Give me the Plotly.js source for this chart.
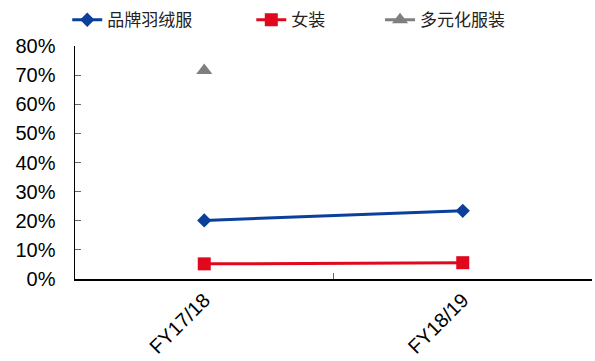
<!DOCTYPE html>
<html>
<head>
<meta charset="utf-8">
<script src="https://cdn.plot.ly/plotly-3.0.1.min.js"></script>
<style>html,body{margin:0;padding:0;background:#fff;}#chart{width:595px;height:361px;}</style>
</head>
<body>
<div id="chart"></div>
<script>
const categories = ["FY17/18", "FY18/19"];
const seriesNames = ["品牌羽绒服", "女装", "多元化服装"];
const downJacket = [0.201, 0.234];
const womensWear = [0.052, 0.056];
const diversified = [0.716, null];
const yTickVals = [0, 0.1, 0.2, 0.3, 0.4, 0.5, 0.6, 0.7, 0.8];

const FONT = '"Liberation Sans", Arial, "Noto Sans CJK SC", sans-serif';
const LEGFONT = {family: '"Noto Sans CJK SC", sans-serif', size: 17, color: '#222'};

const traces = [
  {x: categories, y: downJacket, name: seriesNames[0], type: 'scatter', mode: 'lines+markers', legend: 'legend',
   line: {color: '#0A3F9C', width: 3}, marker: {symbol: 'diamond', size: 11, color: '#0A3F9C'}},
  {x: categories, y: womensWear, name: seriesNames[1], type: 'scatter', mode: 'lines+markers', legend: 'legend2',
   line: {color: '#E0081C', width: 3}, marker: {symbol: 'square', size: 13, color: '#E0081C'}},
  {x: categories, y: diversified, name: seriesNames[2], type: 'scatter', mode: 'lines+markers', legend: 'legend3',
   line: {color: '#7F7F7F', width: 3}, marker: {symbol: 'triangle-up', size: 14, color: '#7F7F7F'}}
];

function leg(x) {
  return {orientation: 'h', x: x, xanchor: 'left', y: 1.106, yanchor: 'middle', font: LEGFONT,
          bgcolor: 'rgba(0,0,0,0)'};
}

const layout = {
  width: 595, height: 361,
  margin: {l: 75, r: 3, t: 45, b: 82, pad: 0},
  paper_bgcolor: '#fff', plot_bgcolor: '#fff',
  font: {family: FONT, size: 20, color: '#000'},
  showlegend: true,
  legend: leg(-0.015),
  legend2: leg(0.341),
  legend3: leg(0.590),
  xaxis: {type: 'category', range: [-0.5, 1.5], tickson: 'boundaries',
          ticks: 'inside', ticklen: 6, tickcolor: '#666', tickwidth: 1,
          showline: true, linecolor: '#000', linewidth: 1.5, showgrid: false, zeroline: false,
          tickangle: -45, automargin: false, tickfont: {size: 20, family: FONT}},
  yaxis: {range: [0, 0.8], tickvals: yTickVals, tickformat: '.0%',
          ticks: 'inside', ticklen: 6, tickcolor: '#666', tickwidth: 1, ticklabelstandoff: 14,
          showline: true, linecolor: '#000', linewidth: 1.5, showgrid: false, zeroline: false,
          automargin: false, tickfont: {size: 20, family: FONT}}
};

Plotly.newPlot('chart', traces, layout, {displayModeBar: false, staticPlot: true});
</script>
</body>
</html>
